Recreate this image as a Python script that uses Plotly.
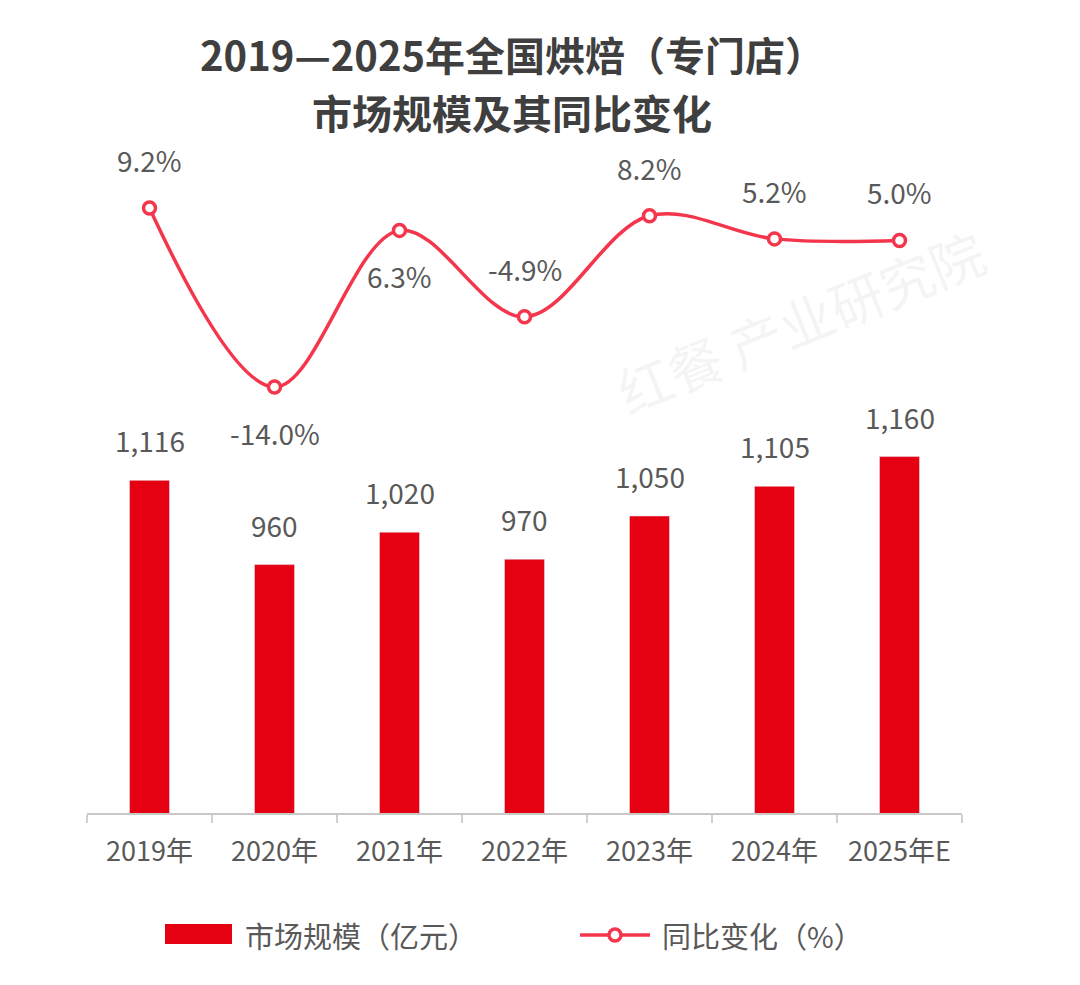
import plotly.graph_objects as go

categories = ["2019年", "2020年", "2021年", "2022年", "2023年", "2024年", "2025年E"]
market_size = [1116, 960, 1020, 970, 1050, 1105, 1160]
yoy_change = [9.2, -14.0, 6.3, -4.9, 8.2, 5.2, 5.0]
yoy_label_side = ["above", "below", "below", "above", "above", "above", "above"]

BAR_COLOR = "#e50012"
LINE_COLOR = "#f4364c"
TEXT_COLOR = "#595959"
FONT = "Noto Sans CJK SC"

W, H = 1080, 985
L, R, T, B = 87, 962, 150, 813  # plot area in pixels


def px_x(px):
    return (px - L) / (R - L)


def px_y(py):
    return (B - py) / (B - T)


fig = go.Figure()

fig.add_trace(go.Bar(
    x=categories, y=market_size, marker_color=BAR_COLOR, width=0.32,
    name="市场规模（亿元）", showlegend=False, yaxis="y", hoverinfo="x+y",
))
fig.add_trace(go.Scatter(
    x=categories, y=yoy_change, mode="lines+markers", yaxis="y2",
    line=dict(color=LINE_COLOR, width=3.5, shape="spline", smoothing=1.0),
    marker=dict(symbol="circle", size=12, color="white", line=dict(color=LINE_COLOR, width=3.5)),
    name="同比变化（%）", showlegend=False,
))

annotations = []
for c, v in zip(categories, market_size):
    annotations.append(dict(x=c, y=v, xref="x", yref="y", text=f"{v:,}", showarrow=False,
                            yshift=40, font=dict(size=28, color=TEXT_COLOR, family=FONT)))
for c, v, side in zip(categories, yoy_change, yoy_label_side):
    annotations.append(dict(x=c, y=v, xref="x", yref="y2", text=f"{v:.1f}%", showarrow=False,
                            yshift=48 if side == "above" else -46,
                            font=dict(size=28, color=TEXT_COLOR, family=FONT)))

# Title (two lines)
title_lines = ["2019—2025年全国烘焙（专门店）", "市场规模及其同比变化"]
for line, py in zip(title_lines, [54, 112]):
    annotations.append(dict(x=px_x(512), y=px_y(py), xref="paper", yref="paper", xanchor="center",
                            yanchor="middle", text=f"<b>{line}</b>", showarrow=False,
                            font=dict(size=40, color="#3f3f3f", family=FONT)))

# Legend (manual, wide swatches)
annotations.append(dict(x=px_x(243), y=px_y(935), xref="paper", yref="paper", xanchor="left", yanchor="middle",
                        text="市场规模（亿元）", showarrow=False, font=dict(size=29, color=TEXT_COLOR, family=FONT)))
annotations.append(dict(x=px_x(660), y=px_y(935), xref="paper", yref="paper", xanchor="left", yanchor="middle",
                        text="同比变化（%）", showarrow=False, font=dict(size=29, color=TEXT_COLOR, family=FONT)))

# faint watermark
annotations.append(dict(x=px_x(800), y=px_y(320), xref="paper", yref="paper", xanchor="center", yanchor="middle",
                        text="红餐 产业研究院", showarrow=False, textangle=-22,
                        font=dict(size=54, color="rgba(0,0,0,0.045)", family=FONT)))

shapes = [
    dict(type="rect", xref="paper", yref="paper", x0=px_x(165), x1=px_x(232), y0=px_y(944), y1=px_y(924),
         fillcolor=BAR_COLOR, line=dict(width=0)),
    dict(type="line", xref="paper", yref="paper", x0=px_x(580), x1=px_x(650), y0=px_y(935), y1=px_y(935),
         line=dict(color=LINE_COLOR, width=3.5)),
    dict(type="circle", xref="paper", yref="paper", x0=px_x(609), x1=px_x(621), y0=px_y(941), y1=px_y(929),
         fillcolor="white", line=dict(color=LINE_COLOR, width=3.5)),
]

bar_min = 500
bar_max = bar_min + (B - T) / 0.54
y2_top = 9.2 + (208 - T) / 7.72
y2_bot = 9.2 - (B - 208) / 7.72

fig.update_layout(
    width=W, height=H,
    margin=dict(l=L, r=W - R, t=T, b=H - B),
    paper_bgcolor="white", plot_bgcolor="white",
    font=dict(family=FONT, color=TEXT_COLOR),
    xaxis=dict(type="category", range=[-0.5, 6.5], showline=True, linecolor="#c8c8c8", linewidth=2,
               ticks="outside", tickson="boundaries", ticklen=8, tickcolor="#d0d0d0", tickwidth=1.5,
               showgrid=False, zeroline=False, ticklabelstandoff=14,
               tickfont=dict(size=27, color=TEXT_COLOR, family=FONT)),
    yaxis=dict(range=[bar_min, bar_max], visible=False, showgrid=False, zeroline=False),
    yaxis2=dict(range=[y2_bot, y2_top], overlaying="y", side="right", visible=False,
                showgrid=False, zeroline=False),
    annotations=annotations,
    shapes=shapes,
    showlegend=False,
)

fig.write_html("out.html")
